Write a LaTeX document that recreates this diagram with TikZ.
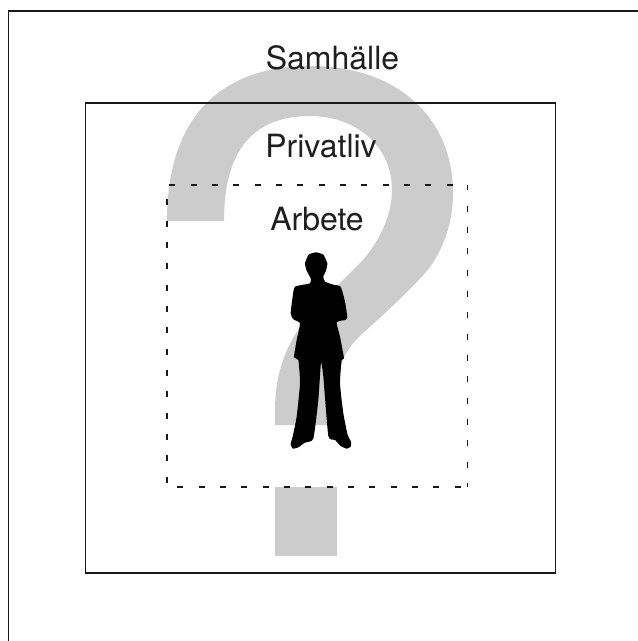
\documentclass[tikz,border=0pt]{standalone}
\usepackage{fontspec}
\setmainfont{TeX Gyre Heros}
\tikzset{
  qmark/.style={fill=black!20,draw=none},
  frameline/.style={draw=black!90,line width=1.1pt},
  dashline/.style={draw=black!90,line width=1.1pt,dash pattern=on 6pt off 15.33pt},
  label/.style={inner sep=0pt,anchor=base,text=black!88,font=\fontsize{32}{36}\selectfont},
  person/.style={fill=black,draw=none}
}
\begin{document}
\begin{tikzpicture}[x=1pt,y=-1pt]
\useasboundingbox (0,0) rectangle (638,641);
\fill[white] (0,0) rectangle (638,641);
% question mark
\path[qmark] (167,221)
  .. controls (167,112) and (226,66) .. (310,66)
  .. controls (400,66) and (453,120) .. (453,193)
  .. controls (453,225) and (442,250) .. (430,267)
  .. controls (418,283) and (380,318) .. (363,333)
  .. controls (350,345) and (337,360) .. (337,395)
  -- (337,425) -- (275,425) -- (275,410)
  .. controls (275,345) and (310,312) .. (338,285)
  -- (363,260)
  .. controls (380,240) and (392,215) .. (392,190)
  .. controls (392,145) and (355,116) .. (310,116)
  .. controls (255,116) and (224,148) .. (224,221)
  -- cycle;
\path[qmark] (275,487) rectangle (337,556);
% frames
\coordinate (fa) at (8.3,641);
\coordinate (fb) at (8.3,11);
\coordinate (fc) at (638,11);
\draw[frameline] (fa) -- (fb) -- (fc);
\draw[frameline] (85.5,103) rectangle (555.5,573);
\draw[dashline,dash phase=19] (167,185) -- (467.7,185);
\draw[dashline,dash phase=7] (167,185) -- (167,487);
\draw[dashline,dash phase=11] (167,487) -- (467.7,487);
\draw[dashline,dash phase=0.7] (467.7,185) -- (467.7,487);
% labels
\node[label] (samhalle) at (332.5,69) {Samhälle};
\node[label] (privatliv) at (321,157) {Privatliv};
\node[label] (arbete) at (317,230) {Arbete};
% person
\begin{scope}[shift={(250,240)},x=0.3333pt,y=-0.3333pt]
\path[person] plot[smooth cycle,tension=0.3] coordinates {
 (198,37) (220,44) (232,70) (228,92) (220,110) (225,125) (250,134) (272,140) (285,185) (292,232) (285,240) (260,247)
 (270,290) (282,355) (275,360) (270,430) (280,520) (293,585) (303,605) (302,620) (290,626) (272,618) (255,600) (235,588)
 (220,410) (213,368) (205,480) (190,596) (165,608) (145,622) (128,626) (122,612) (128,590) (140,530) (150,430) (145,360)
 (132,352) (140,300) (150,250) (130,238) (122,220) (128,170) (135,140) (180,130) (182,115) (170,92) (165,70) (176,44)};
\end{scope}
\end{tikzpicture}
\end{document}
